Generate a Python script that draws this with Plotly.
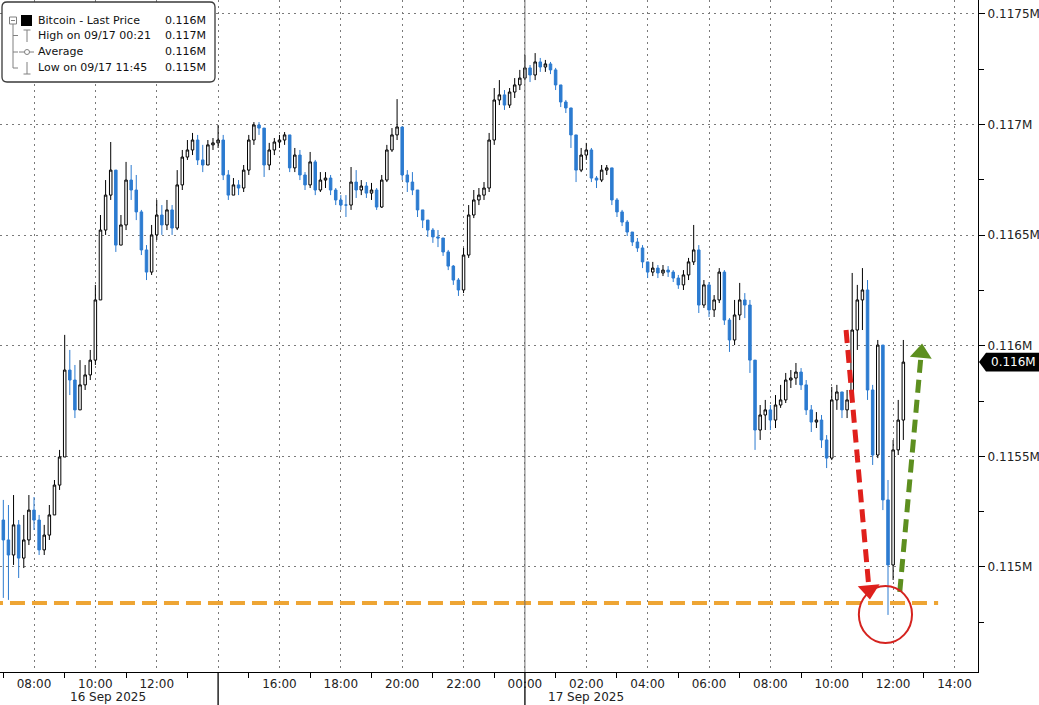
import numpy as np
import pandas as pd
import plotly.graph_objects as go

# ---------------- data (USD, 10-minute candles from 16 Sep 2025 07:00) ----------------
start_open = 115212
close = [
    115122, 115054, 115190, 115040, 115122, 115257, 115212, 115077, 115144, 115235,
    115370, 115497, 115890, 115845, 115710, 115823, 115868, 115935, 116207, 116523,
    116681, 116794, 116455, 116546, 116749, 116704, 116605, 116433, 116333, 116501,
    116591, 116546, 116614, 116532, 116727, 116853, 116885, 116930, 116840, 116817,
    116908, 116917, 116930, 116772, 116681, 116727, 116713, 116794, 116930, 116998,
    116984, 116817, 116885, 116921, 116930, 116953, 116804, 116862, 116772, 116727,
    116831, 116704, 116749, 116758, 116704, 116659, 116636, 116636, 116740, 116704,
    116722, 116690, 116704, 116627, 116749, 116885, 116953, 116989, 116772, 116740,
    116704, 116614, 116568, 116523, 116492, 116487, 116424, 116360, 116297, 116252,
    116410, 116591, 116659, 116681, 116713, 116930, 117111, 117134, 117088, 117147,
    117179, 117210, 117256, 117224, 117283, 117260, 117274, 117247, 117179, 117102,
    117075, 116953, 116794, 116862, 116885, 116758, 116749, 116794, 116804, 116659,
    116605, 116559, 116514, 116469, 116442, 116379, 116333, 116351, 116329, 116342,
    116333, 116306, 116275, 116320, 116379, 116433, 116184, 116275, 116162, 116207,
    116333, 116116, 116026, 116139, 116207, 116184, 115935, 115619, 115687, 115710,
    115664, 115732, 115755, 115845, 115854, 115881, 115823, 115710, 115655, 115664,
    115574, 115492, 115755, 115791, 115710, 115755, 116071, 116207, 116252, 115800,
    115506, 116003, 115303, 115009, 115529, 115664, 115926,
]
high = [
    115303, 115280, 115325, 115212, 115235, 115325, 115316, 115235, 115190, 115280,
    115393, 115529, 116049, 115981, 115913, 115935, 115913, 115981, 116275, 116591,
    116749, 116921, 116772, 116591, 116831, 116817, 116772, 116614, 116455, 116546,
    116659, 116636, 116659, 116636, 116794, 116885, 116930, 116962, 116953, 116908,
    116930, 116939, 116998, 116953, 116794, 116758, 116749, 116817, 116953, 117011,
    117011, 116975, 116917, 116939, 116953, 116966, 116953, 116894, 116885, 116785,
    116876, 116840, 116785, 116785, 116772, 116713, 116681, 116681, 116808, 116794,
    116749, 116740, 116736, 116713, 116772, 116908, 116984, 117115, 116984, 116794,
    116785, 116704, 116605, 116568, 116532, 116523, 116487, 116433, 116365, 116306,
    116442, 116636, 116704, 116713, 116740, 116962, 117165, 117201, 117156, 117165,
    117210, 117247, 117314, 117269, 117323, 117301, 117292, 117283, 117256, 117179,
    117111, 117075, 116953, 116894, 116917, 116894, 116767, 116817, 116817, 116804,
    116668, 116614, 116568, 116514, 116487, 116455, 116379, 116379, 116365, 116365,
    116360, 116342, 116320, 116342, 116397, 116546, 116455, 116297, 116288, 116229,
    116351, 116342, 116125, 116207, 116284, 116238, 116207, 115935, 115732, 115755,
    115732, 115777, 115823, 115877, 115890, 115922, 115899, 115845, 115732, 115700,
    115687, 115596, 115814, 115823, 115777, 115800, 116329, 116275, 116351, 116297,
    115823, 116026, 116003, 115393, 115574, 115755, 116026,
]
low = [
    114860, 114851, 115009, 114950, 114995, 115099, 115167, 115054, 115054, 115122,
    115235, 115348, 115497, 115777, 115673, 115710, 115800, 115845, 115913, 116207,
    116501, 116659, 116424, 116455, 116523, 116659, 116568, 116410, 116297, 116320,
    116478, 116501, 116523, 116501, 116523, 116704, 116840, 116862, 116817, 116785,
    116817, 116885, 116894, 116749, 116659, 116681, 116681, 116695, 116772, 116908,
    116953, 116763, 116794, 116862, 116894, 116908, 116785, 116785, 116749, 116704,
    116713, 116681, 116695, 116713, 116681, 116636, 116614, 116582, 116614, 116668,
    116681, 116668, 116659, 116614, 116623, 116740, 116876, 116930, 116749, 116695,
    116681, 116582, 116532, 116492, 116465, 116446, 116406, 116342, 116275, 116225,
    116238, 116397, 116577, 116636, 116659, 116695, 116908, 117088, 117066, 117075,
    117120, 117156, 117201, 117192, 117201, 117238, 117238, 117228, 117156, 117079,
    117052, 116894, 116740, 116785, 116840, 116740, 116713, 116740, 116772, 116636,
    116582, 116541, 116496, 116451, 116424, 116351, 116306, 116315, 116306, 116315,
    116311, 116288, 116257, 116252, 116297, 116365, 116148, 116171, 116130, 116130,
    116193, 116094, 115972, 116003, 116116, 116125, 115877, 115529, 115574, 115619,
    115619, 115628, 115719, 115741, 115809, 115823, 115800, 115687, 115610, 115628,
    115538, 115447, 115483, 115710, 115673, 115673, 115746, 115981, 116071, 115755,
    115461, 115492, 115257, 114783, 114941, 115506, 115574,
]
times = pd.date_range("2025-09-16 07:00", periods=len(close), freq="10min")

# reference level / annotation anchors
support_level = 114837
support_end = "2025-09-17 13:28"
red_arrow_t = ["2025-09-17 10:28", "2025-09-17 11:13"]
red_arrow_p = [116071, 114896]
green_arrow_t = ["2025-09-17 12:13", "2025-09-17 12:55"]
green_arrow_p = [114887, 115967]
circle_t = ["2025-09-17 10:53", "2025-09-17 12:37"]
circle_p = [114656, 114914]

y_ticks = [115000, 115500, 116000, 116500, 117000, 117500]
y_ticktext = ["0.115M", "0.1155M", "0.116M", "0.1165M", "0.117M", "0.1175M"]
x_ticks = pd.date_range("2025-09-16 08:00", "2025-09-17 14:00", freq="2h")
x_ticktext = [t.strftime("%H:%M") for t in x_ticks]
x_ticktext[3] = ""  # 14:00 on 16 Sep is replaced by a day divider
x_minor = pd.date_range("2025-09-16 07:00", "2025-09-17 14:00", freq="2h")

legend_rows = [
    ("Bitcoin - Last Price", "0.116M"),
    ("High on 09/17 00:21", "0.117M"),
    ("Average", "0.116M"),
    ("Low on 09/17 11:45", "0.115M"),
]
last_label = "0.116M"

# ---------------- figure ----------------
opens = [start_open] + close[:-1]
c = np.array(close, float)
o = np.array(opens, float)
h = np.maximum.reduce([np.array(high, float), o, c])
l = np.minimum.reduce([np.array(low, float), o, c])

FONT = "DejaVu Sans"
BLUE = "#2c7bd0"
fig = go.Figure()
fig.add_trace(go.Candlestick(
    x=times, open=o, high=h, low=l, close=c,
    increasing=dict(line=dict(color="#000000", width=1), fillcolor="#ffffff"),
    decreasing=dict(line=dict(color=BLUE, width=1), fillcolor=BLUE),
    whiskerwidth=0, hoverinfo="skip", showlegend=False,
))

# support line
fig.add_trace(go.Scatter(
    x=[times[0] - pd.Timedelta(minutes=30), support_end], y=[support_level, support_level],
    mode="lines", line=dict(color="#eea534", width=4, dash="15px,7px"),
    hoverinfo="skip", showlegend=False))

# red & green dashed arrows
for tt, pp, col in [(red_arrow_t, red_arrow_p, "#e0201c"), (green_arrow_t, green_arrow_p, "#5d8f1f")]:
    fig.add_trace(go.Scatter(
        x=tt, y=pp, mode="lines+markers",
        line=dict(color=col, width=5, dash="13px,7px"),
        marker=dict(symbol=["circle", "triangle-up"], size=[10, 19], color=col,
                    angleref="previous", line=dict(width=0), opacity=1),
        hoverinfo="skip", showlegend=False))

W, H_ = 978.0, 672.0
def px(x):
    return x / W
def py(y):
    return 1 - y / H_

shapes = []
# red circle around the low
shapes.append(dict(type="circle", xref="x", yref="y", x0=circle_t[0], x1=circle_t[1],
                   y0=circle_p[0], y1=circle_p[1], line=dict(color="#d5231f", width=2)))
# midnight divider
shapes.append(dict(type="line", xref="x", yref="paper", x0="2025-09-17 00:00", x1="2025-09-17 00:00",
                   y0=0, y1=1, line=dict(color="#6e6e6e", width=1)))
for t in ["2025-09-16 14:00", "2025-09-17 00:00"]:
    shapes.append(dict(type="line", xref="x", yref="paper", x0=t, x1=t, y0=py(705), y1=0,
                       line=dict(color="#000", width=1.3)))

# legend box (rounded)
x0, x1, y0, y1, r = 2, 215, 2, 82, 5
path = (f"M {px(x0+r)},{py(y0)} L {px(x1-r)},{py(y0)} Q {px(x1)},{py(y0)} {px(x1)},{py(y0+r)} "
        f"L {px(x1)},{py(y1-r)} Q {px(x1)},{py(y1)} {px(x1-r)},{py(y1)} "
        f"L {px(x0+r)},{py(y1)} Q {px(x0)},{py(y1)} {px(x0)},{py(y1-r)} "
        f"L {px(x0)},{py(y0+r)} Q {px(x0)},{py(y0)} {px(x0+r)},{py(y0)} Z")
shapes.append(dict(type="path", xref="paper", yref="paper", path=path,
                   line=dict(color="#3a3a3a", width=1.3), fillcolor="#ffffff"))
row_y = [20.5, 35.5, 52, 68]
gray = "#808080"
# tree
shapes.append(dict(type="rect", xref="paper", yref="paper", x0=px(9.5), x1=px(16.5), y0=py(24), y1=py(17),
                   line=dict(color=gray, width=1)))
shapes.append(dict(type="line", xref="paper", yref="paper", x0=px(11), x1=px(15), y0=py(20.5), y1=py(20.5),
                   line=dict(color=gray, width=1)))
shapes.append(dict(type="line", xref="paper", yref="paper", x0=px(13), x1=px(13), y0=py(24), y1=py(68),
                   line=dict(color=gray, width=1)))
for ry in row_y[1:]:
    shapes.append(dict(type="line", xref="paper", yref="paper", x0=px(13), x1=px(18), y0=py(ry), y1=py(ry),
                       line=dict(color=gray, width=1)))
# black square
shapes.append(dict(type="rect", xref="paper", yref="paper", x0=px(21), x1=px(32), y0=py(26), y1=py(15),
                   line=dict(width=0), fillcolor="#000"))
# high icon
shapes.append(dict(type="line", xref="paper", yref="paper", x0=px(27), x1=px(27), y0=py(30), y1=py(42),
                   line=dict(color=gray, width=1)))
shapes.append(dict(type="line", xref="paper", yref="paper", x0=px(23.5), x1=px(30.5), y0=py(30), y1=py(30),
                   line=dict(color=gray, width=1)))
# average icon
shapes.append(dict(type="line", xref="paper", yref="paper", x0=px(19), x1=px(34), y0=py(52), y1=py(52),
                   line=dict(color=gray, width=1)))
shapes.append(dict(type="circle", xref="paper", yref="paper", x0=px(24.5), x1=px(29.5), y0=py(54.5), y1=py(49.5),
                   line=dict(color=gray, width=1), fillcolor="#fff"))
# low icon
shapes.append(dict(type="line", xref="paper", yref="paper", x0=px(27), x1=px(27), y0=py(62), y1=py(74),
                   line=dict(color=gray, width=1)))
shapes.append(dict(type="line", xref="paper", yref="paper", x0=px(23.5), x1=px(30.5), y0=py(74), y1=py(74),
                   line=dict(color=gray, width=1)))
# last price tag
last = close[-1]
hh = 42
tag = (f"M {px(979)},{last} L {px(986)},{last + hh} L {px(1039)},{last + hh} "
       f"L {px(1039)},{last - hh} L {px(986)},{last - hh} Z")
shapes.append(dict(type="path", xref="paper", yref="y", path=tag, line=dict(width=0), fillcolor="#000"))

annotations = []
for (label, val), ry in zip(legend_rows, row_y):
    annotations.append(dict(xref="paper", yref="paper", x=px(36), y=py(ry), text=label, showarrow=False,
                            xanchor="left", yanchor="middle", font=dict(family=FONT, size=11, color="#111")))
    annotations.append(dict(xref="paper", yref="paper", x=px(208), y=py(ry), text=val, showarrow=False,
                            xanchor="right", yanchor="middle", font=dict(family=FONT, size=11, color="#111")))
annotations.append(dict(xref="paper", yref="y", x=px(989), y=last, text=last_label, showarrow=False,
                        xanchor="left", yanchor="middle", font=dict(family=FONT, size=12, color="#fff")))
for t, lab in [("2025-09-16 10:25", "16 Sep 2025"), ("2025-09-17 02:00", "17 Sep 2025")]:
    annotations.append(dict(xref="x", yref="paper", x=t, y=py(697), text=lab, showarrow=False,
                            xanchor="center", yanchor="middle", font=dict(family=FONT, size=12, color="#222")))

fig.update_layout(
    width=1039, height=705, margin=dict(l=0, r=61, t=0, b=33),
    paper_bgcolor="#ffffff", plot_bgcolor="#ffffff",
    showlegend=False, shapes=shapes, annotations=annotations,
    font=dict(family=FONT, size=12, color="#222"),
    xaxis=dict(
        type="date", range=["2025-09-16 06:53:30", "2025-09-17 14:46"],
        rangeslider=dict(visible=False),
        tickmode="array", tickvals=x_ticks, ticktext=x_ticktext, ticks="",
        showgrid=True, gridcolor="#7a7a7a", griddash="2px,4px", gridwidth=1,
        showline=True, linecolor="#000", linewidth=1.3, zeroline=False,
        tickfont=dict(family=FONT, size=12, color="#222"),
        minor=dict(tickmode="array", tickvals=x_minor, ticks="outside", ticklen=5,
                   tickcolor="#000", showgrid=False),
    ),
    yaxis=dict(
        side="right", range=[114525, 117563],
        tickmode="array", tickvals=y_ticks, ticktext=y_ticktext,
        ticks="outside", ticklen=6, tickcolor="#000",
        showgrid=True, gridcolor="#7a7a7a", griddash="2px,4px", gridwidth=1,
        showline=True, linecolor="#000", linewidth=1.3, zeroline=False,
        tickfont=dict(family=FONT, size=12, color="#222"),
        minor=dict(tickmode="array", tickvals=[114750, 115250, 115750, 116250, 116750, 117250],
                   ticks="outside", ticklen=5, tickcolor="#000", showgrid=False),
    ),
)

fig.write_html("out.html", config={"displayModeBar": False},
               post_script="document.body.style.margin='0';document.body.style.overflow='hidden';")
